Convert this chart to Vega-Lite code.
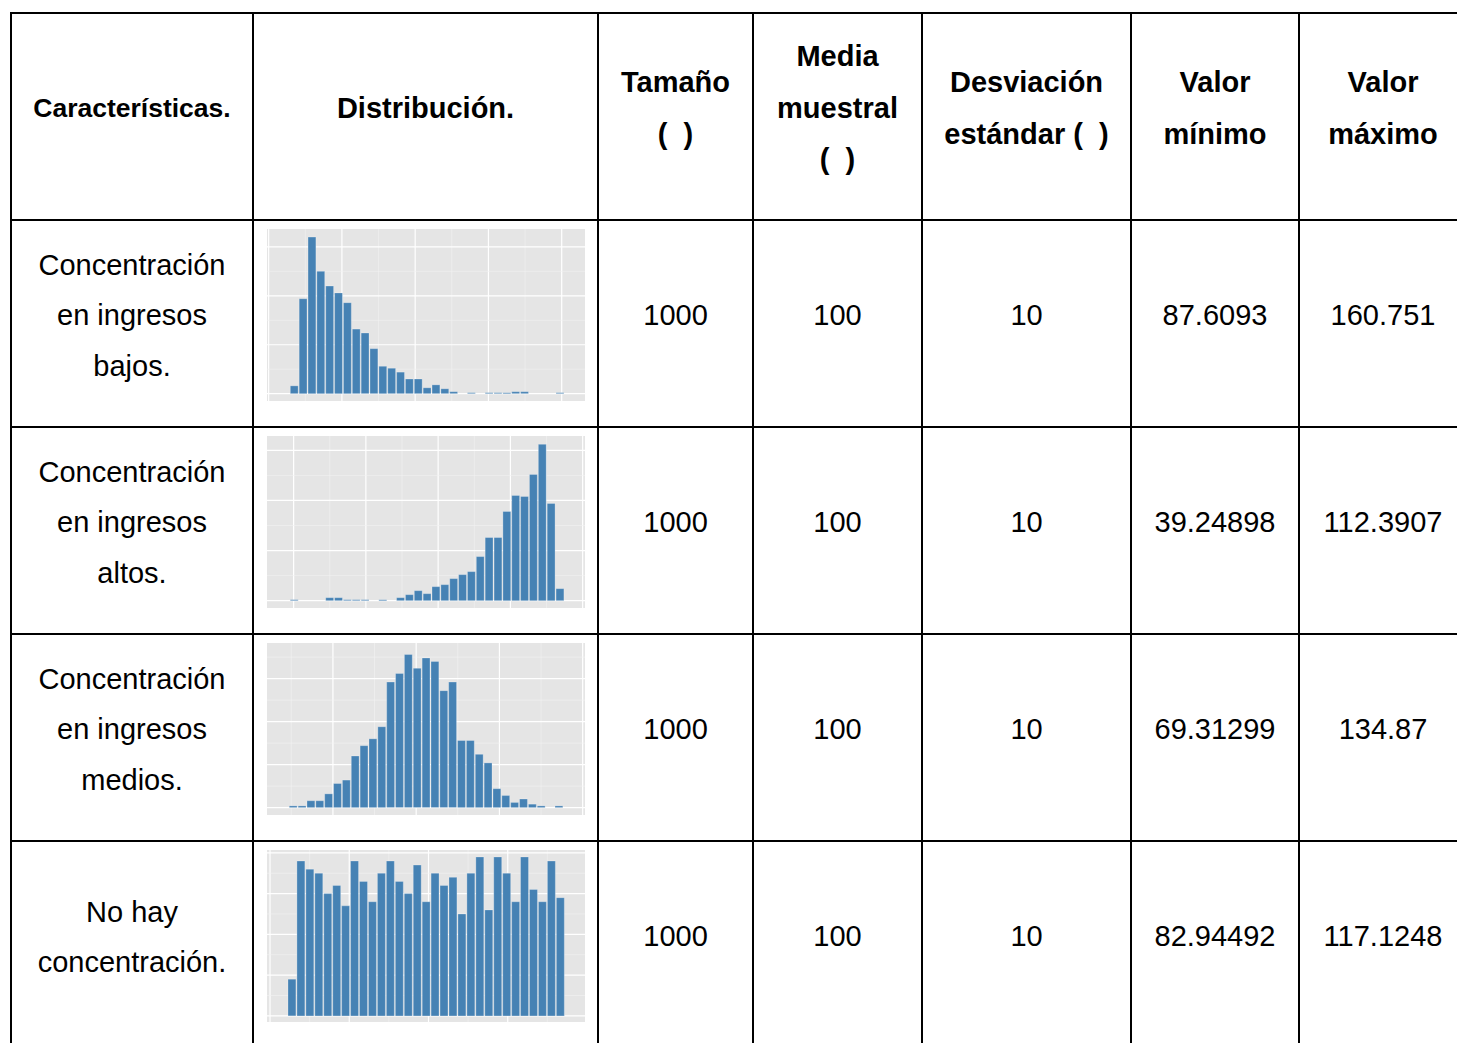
{
  "$schema": "https://vega.github.io/schema/vega-lite/v6.json",
  "padding": {"left": 10, "top": 12, "right": 0, "bottom": 0},
  "background": "white",
  "columns": 7,
  "spacing": 0,
  "bounds": "flush",
  "align": "each",
  "datasets": {
    "cells": [
      {"r": 0, "c": 0, "t": "Características."},
      {"r": 0, "c": 1, "t": "Distribución."},
      {"r": 0, "c": 2, "t": "Tamaño\n(\u00a0\u00a0)"},
      {"r": 0, "c": 3, "t": "Media\nmuestral\n(\u00a0\u00a0)"},
      {"r": 0, "c": 4, "t": "Desviación\nestándar (\u00a0\u00a0)"},
      {"r": 0, "c": 5, "t": "Valor\nmínimo"},
      {"r": 0, "c": 6, "t": "Valor\nmáximo"},
      {"r": 1, "c": 0, "t": "Concentración\nen ingresos\nbajos."},
      {"r": 1, "c": 2, "t": "1000"},
      {"r": 1, "c": 3, "t": "100"},
      {"r": 1, "c": 4, "t": "10"},
      {"r": 1, "c": 5, "t": "87.6093"},
      {"r": 1, "c": 6, "t": "160.751"},
      {"r": 2, "c": 0, "t": "Concentración\nen ingresos\naltos."},
      {"r": 2, "c": 2, "t": "1000"},
      {"r": 2, "c": 3, "t": "100"},
      {"r": 2, "c": 4, "t": "10"},
      {"r": 2, "c": 5, "t": "39.24898"},
      {"r": 2, "c": 6, "t": "112.3907"},
      {"r": 3, "c": 0, "t": "Concentración\nen ingresos\nmedios."},
      {"r": 3, "c": 2, "t": "1000"},
      {"r": 3, "c": 3, "t": "100"},
      {"r": 3, "c": 4, "t": "10"},
      {"r": 3, "c": 5, "t": "69.31299"},
      {"r": 3, "c": 6, "t": "134.87"},
      {"r": 4, "c": 0, "t": "No hay\nconcentración."},
      {"r": 4, "c": 2, "t": "1000"},
      {"r": 4, "c": 3, "t": "100"},
      {"r": 4, "c": 4, "t": "10"},
      {"r": 4, "c": 5, "t": "82.94492"},
      {"r": 4, "c": 6, "t": "117.1248"}
    ],
    "hist": [
      {"h": 1, "lo": 85.64, "n": 8}, {"h": 1, "lo": 88.06, "n": 97}, {"h": 1, "lo": 90.48, "n": 160}, {"h": 1, "lo": 92.89, "n": 125},
      {"h": 1, "lo": 95.31, "n": 110}, {"h": 1, "lo": 97.73, "n": 103}, {"h": 1, "lo": 100.15, "n": 93}, {"h": 1, "lo": 102.57, "n": 66},
      {"h": 1, "lo": 104.98, "n": 62}, {"h": 1, "lo": 107.40, "n": 46}, {"h": 1, "lo": 109.82, "n": 28}, {"h": 1, "lo": 112.24, "n": 26},
      {"h": 1, "lo": 114.66, "n": 22}, {"h": 1, "lo": 117.07, "n": 15}, {"h": 1, "lo": 119.49, "n": 15}, {"h": 1, "lo": 121.91, "n": 6},
      {"h": 1, "lo": 124.33, "n": 9}, {"h": 1, "lo": 126.75, "n": 5}, {"h": 1, "lo": 129.16, "n": 2}, {"h": 1, "lo": 134.00, "n": 1},
      {"h": 1, "lo": 138.84, "n": 1}, {"h": 1, "lo": 141.25, "n": 1}, {"h": 1, "lo": 143.67, "n": 1}, {"h": 1, "lo": 146.09, "n": 2},
      {"h": 1, "lo": 148.51, "n": 2}, {"h": 1, "lo": 158.18, "n": 1},

      {"h": 2, "lo": 38.80, "n": 1}, {"h": 2, "lo": 48.61, "n": 3}, {"h": 2, "lo": 51.06, "n": 3}, {"h": 2, "lo": 53.51, "n": 1},
      {"h": 2, "lo": 55.96, "n": 1}, {"h": 2, "lo": 58.42, "n": 1}, {"h": 2, "lo": 63.32, "n": 1}, {"h": 2, "lo": 68.22, "n": 3},
      {"h": 2, "lo": 70.68, "n": 6}, {"h": 2, "lo": 73.13, "n": 10}, {"h": 2, "lo": 75.58, "n": 7}, {"h": 2, "lo": 78.03, "n": 14},
      {"h": 2, "lo": 80.48, "n": 16}, {"h": 2, "lo": 82.94, "n": 22}, {"h": 2, "lo": 85.39, "n": 26}, {"h": 2, "lo": 87.84, "n": 29},
      {"h": 2, "lo": 90.29, "n": 44}, {"h": 2, "lo": 92.74, "n": 63}, {"h": 2, "lo": 95.20, "n": 63}, {"h": 2, "lo": 97.65, "n": 89},
      {"h": 2, "lo": 100.10, "n": 105}, {"h": 2, "lo": 102.55, "n": 104}, {"h": 2, "lo": 105.00, "n": 126}, {"h": 2, "lo": 107.46, "n": 156},
      {"h": 2, "lo": 109.91, "n": 97}, {"h": 2, "lo": 112.36, "n": 12},

      {"h": 3, "lo": 69.27, "n": 1}, {"h": 3, "lo": 71.40, "n": 1}, {"h": 3, "lo": 73.53, "n": 4}, {"h": 3, "lo": 75.65, "n": 4},
      {"h": 3, "lo": 77.78, "n": 8}, {"h": 3, "lo": 79.91, "n": 14}, {"h": 3, "lo": 82.04, "n": 16}, {"h": 3, "lo": 84.17, "n": 30},
      {"h": 3, "lo": 86.29, "n": 36}, {"h": 3, "lo": 88.42, "n": 40}, {"h": 3, "lo": 90.55, "n": 47}, {"h": 3, "lo": 92.68, "n": 73},
      {"h": 3, "lo": 94.81, "n": 78}, {"h": 3, "lo": 96.93, "n": 89}, {"h": 3, "lo": 99.06, "n": 81}, {"h": 3, "lo": 101.19, "n": 87},
      {"h": 3, "lo": 103.32, "n": 85}, {"h": 3, "lo": 105.45, "n": 68}, {"h": 3, "lo": 107.57, "n": 73}, {"h": 3, "lo": 109.70, "n": 39},
      {"h": 3, "lo": 111.83, "n": 39}, {"h": 3, "lo": 113.96, "n": 31}, {"h": 3, "lo": 116.09, "n": 26}, {"h": 3, "lo": 118.21, "n": 11},
      {"h": 3, "lo": 120.34, "n": 7}, {"h": 3, "lo": 122.47, "n": 3}, {"h": 3, "lo": 124.60, "n": 5}, {"h": 3, "lo": 126.73, "n": 2},
      {"h": 3, "lo": 128.85, "n": 1}, {"h": 3, "lo": 133.11, "n": 1},

      {"h": 4, "lo": 82.14, "n": 9}, {"h": 4, "lo": 83.27, "n": 38}, {"h": 4, "lo": 84.40, "n": 36}, {"h": 4, "lo": 85.53, "n": 35},
      {"h": 4, "lo": 86.66, "n": 30}, {"h": 4, "lo": 87.79, "n": 32}, {"h": 4, "lo": 88.91, "n": 27}, {"h": 4, "lo": 90.04, "n": 38},
      {"h": 4, "lo": 91.17, "n": 33}, {"h": 4, "lo": 92.30, "n": 28}, {"h": 4, "lo": 93.43, "n": 35}, {"h": 4, "lo": 94.56, "n": 38},
      {"h": 4, "lo": 95.69, "n": 33}, {"h": 4, "lo": 96.82, "n": 30}, {"h": 4, "lo": 97.95, "n": 37}, {"h": 4, "lo": 99.08, "n": 28},
      {"h": 4, "lo": 100.20, "n": 35}, {"h": 4, "lo": 101.33, "n": 32}, {"h": 4, "lo": 102.46, "n": 34}, {"h": 4, "lo": 103.59, "n": 25},
      {"h": 4, "lo": 104.72, "n": 35}, {"h": 4, "lo": 105.85, "n": 39}, {"h": 4, "lo": 106.98, "n": 26}, {"h": 4, "lo": 108.11, "n": 39},
      {"h": 4, "lo": 109.24, "n": 35}, {"h": 4, "lo": 110.37, "n": 28}, {"h": 4, "lo": 111.49, "n": 39}, {"h": 4, "lo": 112.62, "n": 31},
      {"h": 4, "lo": 113.75, "n": 28}, {"h": 4, "lo": 114.88, "n": 38}, {"h": 4, "lo": 116.01, "n": 29}
    ]
  },
  "concat": [
    {"width": 242, "height": 207, "data": {"name": "cells"}, "transform": [{"filter": "datum.r === 0 && datum.c === 0"}], "mark": {"type": "text", "style": "hdr", "fontSize": 26.5}, "encoding": {"text": {"field": "t"}, "x": {"datum": 0.5, "type": "quantitative", "scale": {"domain": [0, 1]}, "axis": null}, "y": {"datum": 0.5, "type": "quantitative", "scale": {"domain": [0, 1]}, "axis": null}}},
    {"width": 345, "height": 207, "data": {"name": "cells"}, "transform": [{"filter": "datum.r === 0 && datum.c === 1"}], "mark": {"type": "text", "style": "hdr"}, "encoding": {"text": {"field": "t"}, "x": {"datum": 0.5, "type": "quantitative", "scale": {"domain": [0, 1]}, "axis": null}, "y": {"datum": 0.5, "type": "quantitative", "scale": {"domain": [0, 1]}, "axis": null}}},
    {"width": 155, "height": 207, "data": {"name": "cells"}, "transform": [{"filter": "datum.r === 0 && datum.c === 2"}], "mark": {"type": "text", "style": "hdr", "dy": -33.5}, "encoding": {"text": {"field": "t"}, "x": {"datum": 0.5, "type": "quantitative", "scale": {"domain": [0, 1]}, "axis": null}, "y": {"datum": 0.5, "type": "quantitative", "scale": {"domain": [0, 1]}, "axis": null}}},
    {"width": 169, "height": 207, "data": {"name": "cells"}, "transform": [{"filter": "datum.r === 0 && datum.c === 3"}], "mark": {"type": "text", "style": "hdr", "dy": -59.5}, "encoding": {"text": {"field": "t"}, "x": {"datum": 0.5, "type": "quantitative", "scale": {"domain": [0, 1]}, "axis": null}, "y": {"datum": 0.5, "type": "quantitative", "scale": {"domain": [0, 1]}, "axis": null}}},
    {"width": 209, "height": 207, "data": {"name": "cells"}, "transform": [{"filter": "datum.r === 0 && datum.c === 4"}], "mark": {"type": "text", "style": "hdr", "dy": -33.5}, "encoding": {"text": {"field": "t"}, "x": {"datum": 0.5, "type": "quantitative", "scale": {"domain": [0, 1]}, "axis": null}, "y": {"datum": 0.5, "type": "quantitative", "scale": {"domain": [0, 1]}, "axis": null}}},
    {"width": 168, "height": 207, "data": {"name": "cells"}, "transform": [{"filter": "datum.r === 0 && datum.c === 5"}], "mark": {"type": "text", "style": "hdr", "dy": -33.5}, "encoding": {"text": {"field": "t"}, "x": {"datum": 0.5, "type": "quantitative", "scale": {"domain": [0, 1]}, "axis": null}, "y": {"datum": 0.5, "type": "quantitative", "scale": {"domain": [0, 1]}, "axis": null}}},
    {"width": 168, "height": 207, "data": {"name": "cells"}, "transform": [{"filter": "datum.r === 0 && datum.c === 6"}], "mark": {"type": "text", "style": "hdr", "dy": -33.5}, "encoding": {"text": {"field": "t"}, "x": {"datum": 0.5, "type": "quantitative", "scale": {"domain": [0, 1]}, "axis": null}, "y": {"datum": 0.5, "type": "quantitative", "scale": {"domain": [0, 1]}, "axis": null}}},

    {"width": 242, "height": 207, "data": {"name": "cells"}, "transform": [{"filter": "datum.r === 1 && datum.c === 0"}], "mark": {"type": "text", "dy": -58}, "encoding": {"text": {"field": "t"}, "x": {"datum": 0.5, "type": "quantitative", "scale": {"domain": [0, 1]}, "axis": null}, "y": {"datum": 0.5, "type": "quantitative", "scale": {"domain": [0, 1]}, "axis": null}}},
    {"width": 345, "height": 207, "layer": [
      {"data": {"values": [{"panel": 1}]}, "mark": {"type": "rect", "color": "#E5E5E5"}, "encoding": {
        "x": {"datum": 79.55, "type": "quantitative", "axis": null, "scale": {"domain": [79.55, 166.36], "range": [14, 332], "nice": false, "zero": false}},
        "x2": {"datum": 166.36},
        "y": {"datum": -7.5, "type": "quantitative", "axis": null, "scale": {"domain": [-7.5, 168.3], "range": [181, 9], "nice": false, "zero": false}},
        "y2": {"datum": 168.3}}},
      {"data": {"values": [{"v": 80}, {"v": 90}, {"v": 100}, {"v": 110}, {"v": 120}, {"v": 130}, {"v": 140}, {"v": 150}, {"v": 160}]}, "mark": {"type": "rule"}, "encoding": {
        "x": {"field": "v", "type": "quantitative", "axis": null},
        "y": {"datum": -7.5, "type": "quantitative", "axis": null}, "y2": {"datum": 168.3},
        "color": {"condition": {"test": "datum.v % 20 === 0", "value": "#FFFFFF"}, "value": "#F2F2F2"},
        "strokeWidth": {"condition": {"test": "datum.v % 20 === 0", "value": 1.2}, "value": 0.6}}},
      {"data": {"values": [{"v": 0}, {"v": 25}, {"v": 50}, {"v": 75}, {"v": 100}, {"v": 125}, {"v": 150}]}, "mark": {"type": "rule"}, "encoding": {
        "y": {"field": "v", "type": "quantitative", "axis": null},
        "x": {"datum": 79.55, "type": "quantitative", "axis": null}, "x2": {"datum": 166.36},
        "color": {"condition": {"test": "datum.v % 50 === 0", "value": "#FFFFFF"}, "value": "#F2F2F2"},
        "strokeWidth": {"condition": {"test": "datum.v % 50 === 0", "value": 1.2}, "value": 0.6}}},
      {"data": {"name": "hist"}, "transform": [{"filter": "datum.h === 1"}], "mark": {"type": "bar", "color": "#4682B4", "stroke": "#FFFFFF", "strokeWidth": 0.5, "strokeOpacity": 0.5}, "encoding": {
        "x": {"field": "lo", "type": "quantitative", "bin": {"binned": true, "step": 2.418}, "axis": null},
        "y": {"field": "n", "type": "quantitative", "axis": null}, "y2": {"datum": 0}}}
    ]},
    {"width": 155, "height": 207, "data": {"name": "cells"}, "transform": [{"filter": "datum.r === 1 && datum.c === 2"}], "mark": {"type": "text"}, "encoding": {"text": {"field": "t"}, "x": {"datum": 0.5, "type": "quantitative", "scale": {"domain": [0, 1]}, "axis": null}, "y": {"datum": 0.5, "type": "quantitative", "scale": {"domain": [0, 1]}, "axis": null}}},
    {"width": 169, "height": 207, "data": {"name": "cells"}, "transform": [{"filter": "datum.r === 1 && datum.c === 3"}], "mark": {"type": "text"}, "encoding": {"text": {"field": "t"}, "x": {"datum": 0.5, "type": "quantitative", "scale": {"domain": [0, 1]}, "axis": null}, "y": {"datum": 0.5, "type": "quantitative", "scale": {"domain": [0, 1]}, "axis": null}}},
    {"width": 209, "height": 207, "data": {"name": "cells"}, "transform": [{"filter": "datum.r === 1 && datum.c === 4"}], "mark": {"type": "text"}, "encoding": {"text": {"field": "t"}, "x": {"datum": 0.5, "type": "quantitative", "scale": {"domain": [0, 1]}, "axis": null}, "y": {"datum": 0.5, "type": "quantitative", "scale": {"domain": [0, 1]}, "axis": null}}},
    {"width": 168, "height": 207, "data": {"name": "cells"}, "transform": [{"filter": "datum.r === 1 && datum.c === 5"}], "mark": {"type": "text"}, "encoding": {"text": {"field": "t"}, "x": {"datum": 0.5, "type": "quantitative", "scale": {"domain": [0, 1]}, "axis": null}, "y": {"datum": 0.5, "type": "quantitative", "scale": {"domain": [0, 1]}, "axis": null}}},
    {"width": 168, "height": 207, "data": {"name": "cells"}, "transform": [{"filter": "datum.r === 1 && datum.c === 6"}], "mark": {"type": "text"}, "encoding": {"text": {"field": "t"}, "x": {"datum": 0.5, "type": "quantitative", "scale": {"domain": [0, 1]}, "axis": null}, "y": {"datum": 0.5, "type": "quantitative", "scale": {"domain": [0, 1]}, "axis": null}}},

    {"width": 242, "height": 207, "data": {"name": "cells"}, "transform": [{"filter": "datum.r === 2 && datum.c === 0"}], "mark": {"type": "text", "dy": -58}, "encoding": {"text": {"field": "t"}, "x": {"datum": 0.5, "type": "quantitative", "scale": {"domain": [0, 1]}, "axis": null}, "y": {"datum": 0.5, "type": "quantitative", "scale": {"domain": [0, 1]}, "axis": null}}},
    {"width": 345, "height": 207, "layer": [
      {"data": {"values": [{"panel": 2}]}, "mark": {"type": "rect", "color": "#E5E5E5"}, "encoding": {
        "x": {"datum": 32.63, "type": "quantitative", "axis": null, "scale": {"domain": [32.63, 120.65], "range": [14, 332], "nice": false, "zero": false}},
        "x2": {"datum": 120.65},
        "y": {"datum": -7.3, "type": "quantitative", "axis": null, "scale": {"domain": [-7.3, 164.3], "range": [181, 9], "nice": false, "zero": false}},
        "y2": {"datum": 164.3}}},
      {"data": {"values": [{"v": 40}, {"v": 50}, {"v": 60}, {"v": 70}, {"v": 80}, {"v": 90}, {"v": 100}, {"v": 110}, {"v": 120}]}, "mark": {"type": "rule"}, "encoding": {
        "x": {"field": "v", "type": "quantitative", "axis": null},
        "y": {"datum": -7.3, "type": "quantitative", "axis": null}, "y2": {"datum": 164.3},
        "color": {"condition": {"test": "datum.v % 20 === 0", "value": "#FFFFFF"}, "value": "#F2F2F2"},
        "strokeWidth": {"condition": {"test": "datum.v % 20 === 0", "value": 1.2}, "value": 0.6}}},
      {"data": {"values": [{"v": 0}, {"v": 25}, {"v": 50}, {"v": 75}, {"v": 100}, {"v": 125}, {"v": 150}]}, "mark": {"type": "rule"}, "encoding": {
        "y": {"field": "v", "type": "quantitative", "axis": null},
        "x": {"datum": 32.63, "type": "quantitative", "axis": null}, "x2": {"datum": 120.65},
        "color": {"condition": {"test": "datum.v % 50 === 0", "value": "#FFFFFF"}, "value": "#F2F2F2"},
        "strokeWidth": {"condition": {"test": "datum.v % 50 === 0", "value": 1.2}, "value": 0.6}}},
      {"data": {"name": "hist"}, "transform": [{"filter": "datum.h === 2"}], "mark": {"type": "bar", "color": "#4682B4", "stroke": "#FFFFFF", "strokeWidth": 0.5, "strokeOpacity": 0.5}, "encoding": {
        "x": {"field": "lo", "type": "quantitative", "bin": {"binned": true, "step": 2.452}, "axis": null},
        "y": {"field": "n", "type": "quantitative", "axis": null}, "y2": {"datum": 0}}}
    ]},
    {"width": 155, "height": 207, "data": {"name": "cells"}, "transform": [{"filter": "datum.r === 2 && datum.c === 2"}], "mark": {"type": "text"}, "encoding": {"text": {"field": "t"}, "x": {"datum": 0.5, "type": "quantitative", "scale": {"domain": [0, 1]}, "axis": null}, "y": {"datum": 0.5, "type": "quantitative", "scale": {"domain": [0, 1]}, "axis": null}}},
    {"width": 169, "height": 207, "data": {"name": "cells"}, "transform": [{"filter": "datum.r === 2 && datum.c === 3"}], "mark": {"type": "text"}, "encoding": {"text": {"field": "t"}, "x": {"datum": 0.5, "type": "quantitative", "scale": {"domain": [0, 1]}, "axis": null}, "y": {"datum": 0.5, "type": "quantitative", "scale": {"domain": [0, 1]}, "axis": null}}},
    {"width": 209, "height": 207, "data": {"name": "cells"}, "transform": [{"filter": "datum.r === 2 && datum.c === 4"}], "mark": {"type": "text"}, "encoding": {"text": {"field": "t"}, "x": {"datum": 0.5, "type": "quantitative", "scale": {"domain": [0, 1]}, "axis": null}, "y": {"datum": 0.5, "type": "quantitative", "scale": {"domain": [0, 1]}, "axis": null}}},
    {"width": 168, "height": 207, "data": {"name": "cells"}, "transform": [{"filter": "datum.r === 2 && datum.c === 5"}], "mark": {"type": "text"}, "encoding": {"text": {"field": "t"}, "x": {"datum": 0.5, "type": "quantitative", "scale": {"domain": [0, 1]}, "axis": null}, "y": {"datum": 0.5, "type": "quantitative", "scale": {"domain": [0, 1]}, "axis": null}}},
    {"width": 168, "height": 207, "data": {"name": "cells"}, "transform": [{"filter": "datum.r === 2 && datum.c === 6"}], "mark": {"type": "text"}, "encoding": {"text": {"field": "t"}, "x": {"datum": 0.5, "type": "quantitative", "scale": {"domain": [0, 1]}, "axis": null}, "y": {"datum": 0.5, "type": "quantitative", "scale": {"domain": [0, 1]}, "axis": null}}},

    {"width": 242, "height": 207, "data": {"name": "cells"}, "transform": [{"filter": "datum.r === 3 && datum.c === 0"}], "mark": {"type": "text", "dy": -58}, "encoding": {"text": {"field": "t"}, "x": {"datum": 0.5, "type": "quantitative", "scale": {"domain": [0, 1]}, "axis": null}, "y": {"datum": 0.5, "type": "quantitative", "scale": {"domain": [0, 1]}, "axis": null}}},
    {"width": 345, "height": 207, "layer": [
      {"data": {"values": [{"panel": 3}]}, "mark": {"type": "rect", "color": "#E5E5E5"}, "encoding": {
        "x": {"datum": 64.16, "type": "quantitative", "axis": null, "scale": {"domain": [64.16, 140.56], "range": [14, 332], "nice": false, "zero": false}},
        "x2": {"datum": 140.56},
        "y": {"datum": -4.3, "type": "quantitative", "axis": null, "scale": {"domain": [-4.3, 95.7], "range": [181, 9], "nice": false, "zero": false}},
        "y2": {"datum": 95.7}}},
      {"data": {"values": [{"v": 70}, {"v": 80}, {"v": 90}, {"v": 100}, {"v": 110}, {"v": 120}, {"v": 130}, {"v": 140}]}, "mark": {"type": "rule"}, "encoding": {
        "x": {"field": "v", "type": "quantitative", "axis": null},
        "y": {"datum": -4.3, "type": "quantitative", "axis": null}, "y2": {"datum": 95.7},
        "color": {"condition": {"test": "datum.v % 20 === 0", "value": "#FFFFFF"}, "value": "#F2F2F2"},
        "strokeWidth": {"condition": {"test": "datum.v % 20 === 0", "value": 1.2}, "value": 0.6}}},
      {"data": {"values": [{"v": 0}, {"v": 12.5}, {"v": 25}, {"v": 37.5}, {"v": 50}, {"v": 62.5}, {"v": 75}, {"v": 87.5}]}, "mark": {"type": "rule"}, "encoding": {
        "y": {"field": "v", "type": "quantitative", "axis": null},
        "x": {"datum": 64.16, "type": "quantitative", "axis": null}, "x2": {"datum": 140.56},
        "color": {"condition": {"test": "datum.v % 25 === 0", "value": "#FFFFFF"}, "value": "#F2F2F2"},
        "strokeWidth": {"condition": {"test": "datum.v % 25 === 0", "value": 1.2}, "value": 0.6}}},
      {"data": {"name": "hist"}, "transform": [{"filter": "datum.h === 3"}], "mark": {"type": "bar", "color": "#4682B4", "stroke": "#FFFFFF", "strokeWidth": 0.5, "strokeOpacity": 0.5}, "encoding": {
        "x": {"field": "lo", "type": "quantitative", "bin": {"binned": true, "step": 2.128}, "axis": null},
        "y": {"field": "n", "type": "quantitative", "axis": null}, "y2": {"datum": 0}}}
    ]},
    {"width": 155, "height": 207, "data": {"name": "cells"}, "transform": [{"filter": "datum.r === 3 && datum.c === 2"}], "mark": {"type": "text"}, "encoding": {"text": {"field": "t"}, "x": {"datum": 0.5, "type": "quantitative", "scale": {"domain": [0, 1]}, "axis": null}, "y": {"datum": 0.5, "type": "quantitative", "scale": {"domain": [0, 1]}, "axis": null}}},
    {"width": 169, "height": 207, "data": {"name": "cells"}, "transform": [{"filter": "datum.r === 3 && datum.c === 3"}], "mark": {"type": "text"}, "encoding": {"text": {"field": "t"}, "x": {"datum": 0.5, "type": "quantitative", "scale": {"domain": [0, 1]}, "axis": null}, "y": {"datum": 0.5, "type": "quantitative", "scale": {"domain": [0, 1]}, "axis": null}}},
    {"width": 209, "height": 207, "data": {"name": "cells"}, "transform": [{"filter": "datum.r === 3 && datum.c === 4"}], "mark": {"type": "text"}, "encoding": {"text": {"field": "t"}, "x": {"datum": 0.5, "type": "quantitative", "scale": {"domain": [0, 1]}, "axis": null}, "y": {"datum": 0.5, "type": "quantitative", "scale": {"domain": [0, 1]}, "axis": null}}},
    {"width": 168, "height": 207, "data": {"name": "cells"}, "transform": [{"filter": "datum.r === 3 && datum.c === 5"}], "mark": {"type": "text"}, "encoding": {"text": {"field": "t"}, "x": {"datum": 0.5, "type": "quantitative", "scale": {"domain": [0, 1]}, "axis": null}, "y": {"datum": 0.5, "type": "quantitative", "scale": {"domain": [0, 1]}, "axis": null}}},
    {"width": 168, "height": 207, "data": {"name": "cells"}, "transform": [{"filter": "datum.r === 3 && datum.c === 6"}], "mark": {"type": "text"}, "encoding": {"text": {"field": "t"}, "x": {"datum": 0.5, "type": "quantitative", "scale": {"domain": [0, 1]}, "axis": null}, "y": {"datum": 0.5, "type": "quantitative", "scale": {"domain": [0, 1]}, "axis": null}}},

    {"width": 242, "height": 207, "data": {"name": "cells"}, "transform": [{"filter": "datum.r === 4 && datum.c === 0"}], "mark": {"type": "text", "dy": -31.75}, "encoding": {"text": {"field": "t"}, "x": {"datum": 0.5, "type": "quantitative", "scale": {"domain": [0, 1]}, "axis": null}, "y": {"datum": 0.5, "type": "quantitative", "scale": {"domain": [0, 1]}, "axis": null}}},
    {"width": 345, "height": 207, "layer": [
      {"data": {"values": [{"panel": 4}]}, "mark": {"type": "rect", "color": "#E5E5E5"}, "encoding": {
        "x": {"datum": 79.62, "type": "quantitative", "axis": null, "scale": {"domain": [79.62, 119.75], "range": [14, 332], "nice": false, "zero": false}},
        "x2": {"datum": 119.75},
        "y": {"datum": -1.5, "type": "quantitative", "axis": null, "scale": {"domain": [-1.5, 40.7], "range": [181, 9], "nice": false, "zero": false}},
        "y2": {"datum": 40.7}}},
      {"data": {"values": [{"v": 80}, {"v": 85}, {"v": 90}, {"v": 95}, {"v": 100}, {"v": 105}, {"v": 110}, {"v": 115}]}, "mark": {"type": "rule"}, "encoding": {
        "x": {"field": "v", "type": "quantitative", "axis": null},
        "y": {"datum": -1.5, "type": "quantitative", "axis": null}, "y2": {"datum": 40.7},
        "color": {"condition": {"test": "datum.v % 10 === 0", "value": "#FFFFFF"}, "value": "#F2F2F2"},
        "strokeWidth": {"condition": {"test": "datum.v % 10 === 0", "value": 1.2}, "value": 0.6}}},
      {"data": {"values": [{"v": 0}, {"v": 5}, {"v": 10}, {"v": 15}, {"v": 20}, {"v": 25}, {"v": 30}, {"v": 35}, {"v": 40}]}, "mark": {"type": "rule"}, "encoding": {
        "y": {"field": "v", "type": "quantitative", "axis": null},
        "x": {"datum": 79.62, "type": "quantitative", "axis": null}, "x2": {"datum": 119.75},
        "color": {"condition": {"test": "datum.v % 10 === 0", "value": "#FFFFFF"}, "value": "#F2F2F2"},
        "strokeWidth": {"condition": {"test": "datum.v % 10 === 0", "value": 1.2}, "value": 0.6}}},
      {"data": {"name": "hist"}, "transform": [{"filter": "datum.h === 4"}], "mark": {"type": "bar", "color": "#4682B4", "stroke": "#FFFFFF", "strokeWidth": 0.5, "strokeOpacity": 0.5}, "encoding": {
        "x": {"field": "lo", "type": "quantitative", "bin": {"binned": true, "step": 1.129}, "axis": null},
        "y": {"field": "n", "type": "quantitative", "axis": null}, "y2": {"datum": 0}}}
    ]},
    {"width": 155, "height": 207, "data": {"name": "cells"}, "transform": [{"filter": "datum.r === 4 && datum.c === 2"}], "mark": {"type": "text"}, "encoding": {"text": {"field": "t"}, "x": {"datum": 0.5, "type": "quantitative", "scale": {"domain": [0, 1]}, "axis": null}, "y": {"datum": 0.5, "type": "quantitative", "scale": {"domain": [0, 1]}, "axis": null}}},
    {"width": 169, "height": 207, "data": {"name": "cells"}, "transform": [{"filter": "datum.r === 4 && datum.c === 3"}], "mark": {"type": "text"}, "encoding": {"text": {"field": "t"}, "x": {"datum": 0.5, "type": "quantitative", "scale": {"domain": [0, 1]}, "axis": null}, "y": {"datum": 0.5, "type": "quantitative", "scale": {"domain": [0, 1]}, "axis": null}}},
    {"width": 209, "height": 207, "data": {"name": "cells"}, "transform": [{"filter": "datum.r === 4 && datum.c === 4"}], "mark": {"type": "text"}, "encoding": {"text": {"field": "t"}, "x": {"datum": 0.5, "type": "quantitative", "scale": {"domain": [0, 1]}, "axis": null}, "y": {"datum": 0.5, "type": "quantitative", "scale": {"domain": [0, 1]}, "axis": null}}},
    {"width": 168, "height": 207, "data": {"name": "cells"}, "transform": [{"filter": "datum.r === 4 && datum.c === 5"}], "mark": {"type": "text"}, "encoding": {"text": {"field": "t"}, "x": {"datum": 0.5, "type": "quantitative", "scale": {"domain": [0, 1]}, "axis": null}, "y": {"datum": 0.5, "type": "quantitative", "scale": {"domain": [0, 1]}, "axis": null}}},
    {"width": 168, "height": 207, "data": {"name": "cells"}, "transform": [{"filter": "datum.r === 4 && datum.c === 6"}], "mark": {"type": "text"}, "encoding": {"text": {"field": "t"}, "x": {"datum": 0.5, "type": "quantitative", "scale": {"domain": [0, 1]}, "axis": null}, "y": {"datum": 0.5, "type": "quantitative", "scale": {"domain": [0, 1]}, "axis": null}}}
  ],
  "config": {
    "view": {"stroke": "#000000", "strokeWidth": 2},
    "concat": {"spacing": 0},
    "text": {"font": "Liberation Sans", "fontSize": 29, "lineHeight": 50.5, "lineBreak": "\n", "color": "#000000", "dy": -7.5, "align": "center", "baseline": "middle"},
    "style": {"hdr": {"fontWeight": "bold", "lineHeight": 51.5}}
  }
}
